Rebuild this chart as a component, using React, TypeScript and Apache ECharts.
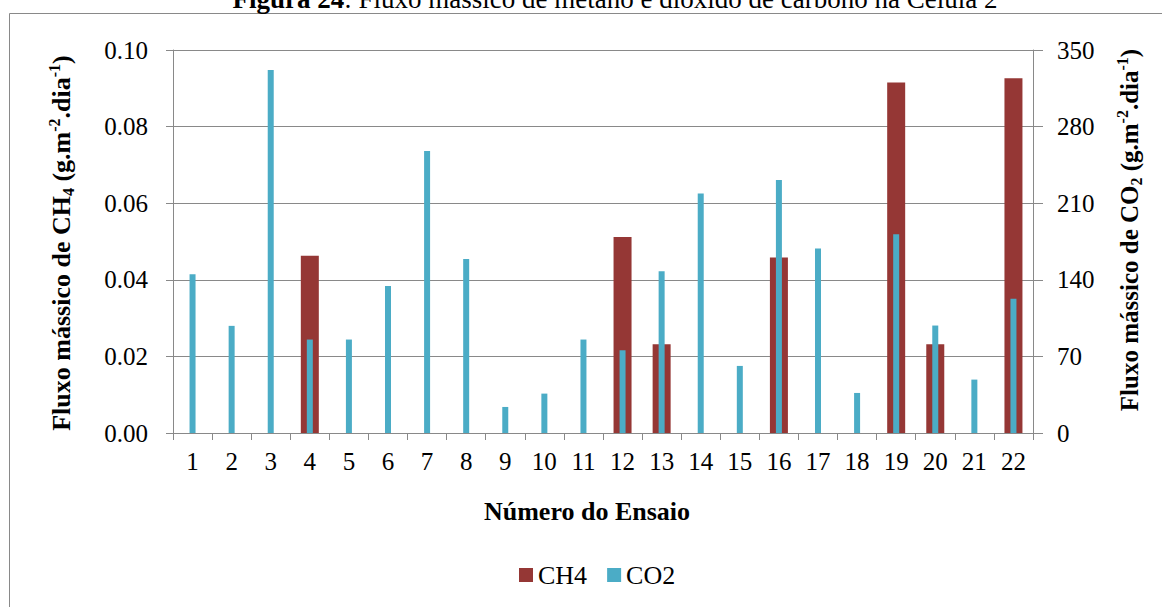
import React, { useEffect, useRef } from "react";
import * as echarts from "echarts";

const categories = ["1","2","3","4","5","6","7","8","9","10","11","12","13","14","15","16","17","18","19","20","21","22"];
const ch4Values = [null, null, null, 0.0463, null, null, null, null, null, null, null, 0.0512, 0.0232, null, null, 0.0458, null, null, 0.0915, 0.0232, null, 0.0926];
const co2Values = [145.1, 97.9, 331.7, 85.4, 85.4, 134.4, 257.6, 159.1, 23.8, 36.0, 85.4, 75.6, 147.9, 218.9, 61.3, 231.1, 168.6, 36.6, 181.7, 98.2, 48.8, 122.6];
const seriesNames = ["CH4", "CO2"];
const titleBold = "Figura 24";
const titleRest = ": Fluxo mássico de metano e dióxido de carbono na Célula 2";
const xAxisTitle = "Número do Ensaio";

const FONT = "Liberation Serif";
const GRAY = "#898989";
const RED = "#953735";
const BLUE = "#4BACC6";

const axisTitleRich = (size: number) => ({
  m: { fontFamily: FONT, fontWeight: "bold", fontSize: size, lineHeight: 30, color: "#000" },
  sub: { fontFamily: FONT, fontWeight: "bold", fontSize: Math.round(size * 0.62), lineHeight: 16, verticalAlign: "bottom", color: "#000" },
  sup: { fontFamily: FONT, fontWeight: "bold", fontSize: Math.round(size * 0.62), lineHeight: 16, verticalAlign: "top", color: "#000" },
});

export default function App() {
  const ref = useRef<HTMLDivElement>(null);
  useEffect(() => {
    if (!ref.current) return;
    const chart = echarts.init(ref.current, null, { renderer: "svg" });
    const option: any = {
      animation: false,
      backgroundColor: "#fff",
      textStyle: { fontFamily: FONT },
      grid: { left: 173, right: 129, top: 50, bottom: 174, containLabel: false },
      legend: {
        data: seriesNames,
        left: 519,
        top: 562,
        padding: 0,
        itemWidth: 14,
        itemHeight: 14,
        itemGap: 20,
        icon: "rect",
        textStyle: { fontFamily: FONT, fontSize: 26, color: "#000" },
      },
      xAxis: [
        {
          type: "category",
          data: categories,
          axisLine: { lineStyle: { color: GRAY, width: 1 } },
          axisTick: { show: true, length: 7, lineStyle: { color: GRAY } },
          axisLabel: { fontFamily: FONT, fontSize: 25, color: "#000", margin: 16 },
        },
        {
          type: "category",
          data: categories,
          show: false,
        },
      ],
      yAxis: [
        {
          type: "value",
          min: 0,
          max: 0.1,
          interval: 0.02,
          axisLine: { show: true, lineStyle: { color: GRAY, width: 1 } },
          axisTick: { show: true, length: 7, lineStyle: { color: GRAY } },
          axisLabel: { fontFamily: FONT, fontSize: 25, color: "#000", margin: 25, formatter: (v: number) => v.toFixed(2) },
          splitLine: { show: true, lineStyle: { color: GRAY, width: 1 } },
        },
        {
          type: "value",
          min: 0,
          max: 350,
          interval: 70,
          position: "right",
          axisLine: { show: true, lineStyle: { color: GRAY, width: 1 } },
          axisTick: { show: true, length: 10, lineStyle: { color: GRAY } },
          axisLabel: { fontFamily: FONT, fontSize: 25, color: "#000", margin: 24 },
          splitLine: { show: false },
        },
      ],
      series: [
        {
          name: seriesNames[0],
          type: "bar",
          xAxisIndex: 0,
          yAxisIndex: 0,
          data: ch4Values,
          barWidth: 18,
          itemStyle: { color: RED },
          z: 2,
        },
        {
          name: seriesNames[1],
          type: "bar",
          xAxisIndex: 1,
          yAxisIndex: 1,
          data: co2Values,
          barWidth: 6,
          itemStyle: { color: BLUE },
          z: 3,
        },
      ],
      graphic: [
        {
          type: "rect",
          shape: { x: 9.5, y: 13.5, width: 1300, height: 800 },
          style: { fill: "none", stroke: GRAY, lineWidth: 1 },
          z: -10,
          silent: true,
        },
        {
          type: "text",
          x: 615,
          y: -1,
          style: {
            text: `{b|${titleBold}}{r|${titleRest}}`,
            align: "center",
            verticalAlign: "middle",
            rich: {
              b: { fontFamily: FONT, fontWeight: "bold", fontSize: 27, color: "#000" },
              r: { fontFamily: FONT, fontSize: 27, color: "#000" },
            },
          },
        },
        {
          type: "text",
          x: 587,
          y: 511,
          style: {
            text: xAxisTitle,
            fontFamily: FONT,
            fontWeight: "bold",
            fontSize: 26,
            fill: "#000",
            align: "center",
            verticalAlign: "middle",
          },
        },
        {
          type: "text",
          x: 61,
          y: 243,
          rotation: Math.PI / 2,
          style: {
            text: "{m|Fluxo mássico de CH}{sub|4}{m| (g.m}{sup|-2}{m|.dia}{sup|-1}{m|)}",
            align: "center",
            verticalAlign: "middle",
            rich: axisTitleRich(26),
          },
        },
        {
          type: "text",
          x: 1129,
          y: 230,
          rotation: Math.PI / 2,
          style: {
            text: "{m|Fluxo mássico de CO}{sub|2}{m| (g.m}{sup|-2}{m|.dia}{sup|-1}{m|)}",
            align: "center",
            verticalAlign: "middle",
            rich: axisTitleRich(25),
          },
        },
      ],
    };
    chart.setOption(option);
    return () => chart.dispose();
  }, []);
  return (
    <div
      ref={ref}
      style={{ position: "absolute", left: 0, top: 0, width: 1162, height: 607 }}
    />
  );
}
